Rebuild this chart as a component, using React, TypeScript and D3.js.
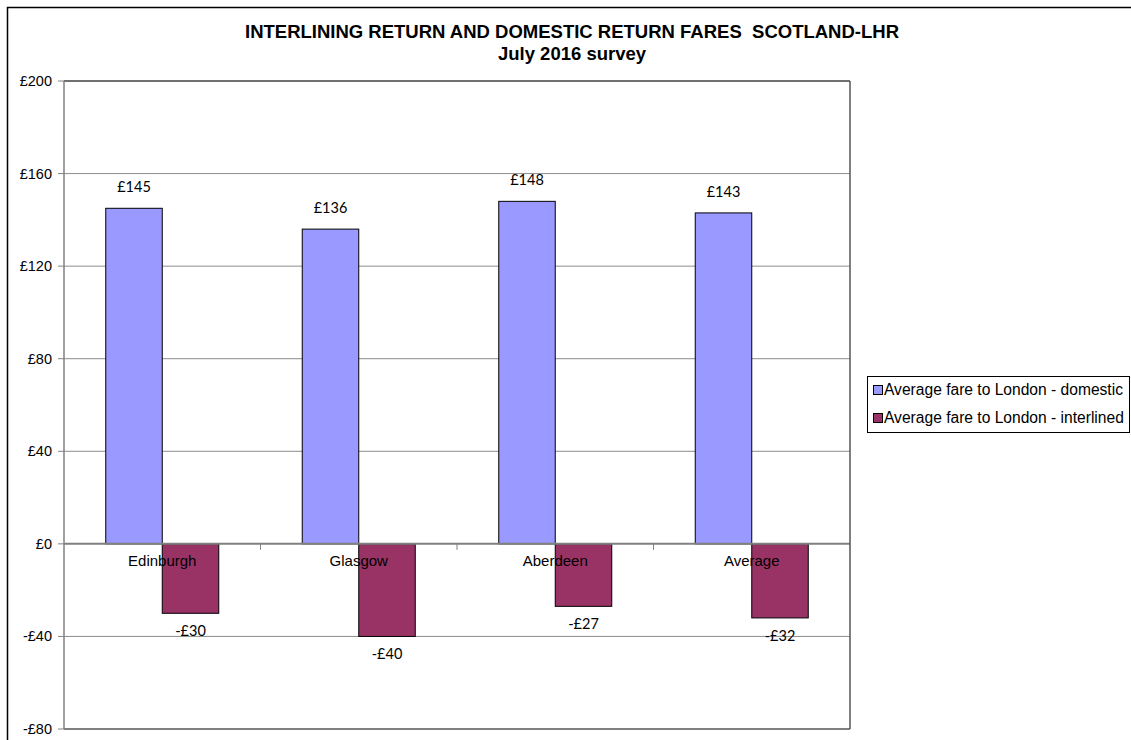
import React from "react";
import * as d3 from "d3";

const categories = ["Edinburgh", "Glasgow", "Aberdeen", "Average"];
const domestic = [145, 136, 148, 143];
const interlined = [-30, -40, -27, -32];
const yTicks = [200, 160, 120, 80, 40, 0, -40, -80];
const seriesNames = ["Average fare to London - domestic", "Average fare to London - interlined"];
const seriesColors = ["#9999FF", "#993366"];

const fmt = (v: number) => (v < 0 ? "-£" + Math.abs(v) : "£" + v);

export default function App() {
  const W = 1131, H = 740;
  const left = 64, right = 850, top = 81, bottom = 729;
  const y = d3.scaleLinear().domain([-80, 200]).range([bottom, top]);
  const x = d3.scaleBand<string>().domain(categories).range([left, right]).padding(0);
  const groupW = 113;
  const sub = d3.scaleBand<number>().domain([0, 1]).range([0, groupW]).padding(0);
  const arial = "'Liberation Sans', Arial, sans-serif";
  const calibri = "Lato, 'Open Sans', sans-serif";
  const series = [domestic, interlined];

  return (
    <svg width={W} height={H} style={{ position: "absolute", left: 0, top: 0, background: "#fff" }}>
      <rect x={7.5} y={7.5} width={W + 10} height={H + 10} fill="#fff" stroke="#000" strokeWidth={1.5} />
      <text x={572} y={38} textAnchor="middle" fontFamily={arial} fontWeight="bold" fontSize={18.5} style={{ whiteSpace: "pre" }}>
        {"INTERLINING RETURN AND DOMESTIC RETURN FARES  SCOTLAND-LHR"}
      </text>
      <text x={572} y={60} textAnchor="middle" fontFamily={arial} fontWeight="bold" fontSize={18.5}>
        July 2016 survey
      </text>
      {/* gridlines */}
      {yTicks.filter((t) => t !== 0 && t !== 200 && t !== -80).map((t) => (
        <line key={t} x1={left} x2={right} y1={y(t)} y2={y(t)} stroke="#8c8c8c" strokeWidth={1} />
      ))}
      {/* y ticks & labels */}
      {yTicks.map((t) => (
        <g key={"t" + t}>
          <line x1={left - 6} x2={left} y1={y(t)} y2={y(t)} stroke="#808080" />
          <text x={52} y={y(t) + 5} textAnchor="end" fontFamily={arial} fontSize={14.5}>
            {fmt(t)}
          </text>
        </g>
      ))}
      {/* bars */}
      {categories.map((c, i) => {
        const gx = (x(c) as number) + x.bandwidth() / 2 - groupW / 2;
        return series.map((s, k) => {
          const v = s[i];
          const bx = gx + (sub(k) as number);
          const y0 = y(Math.max(0, v));
          const h = Math.abs(y(v) - y(0));
          return (
            <rect key={c + k} x={bx} y={y0} width={sub.bandwidth()} height={h} fill={seriesColors[k]} stroke="#000" strokeWidth={1} />
          );
        });
      })}
      {/* zero line */}
      <line x1={left} x2={right} y1={y(0)} y2={y(0)} stroke="#808080" strokeWidth={2} />
      {/* category ticks */}
      {categories.slice(1).map((c) => (
        <line key={"ct" + c} x1={x(c) as number} x2={x(c) as number} y1={y(0)} y2={y(0) + 6} stroke="#808080" />
      ))}
      {/* plot frame */}
      <line x1={left} x2={right} y1={top} y2={top} stroke="#404040" strokeWidth={1.5} />
      <line x1={right} x2={right} y1={top} y2={bottom} stroke="#555" strokeWidth={1.5} />
      <line x1={left} x2={right} y1={bottom} y2={bottom} stroke="#555" strokeWidth={1.5} />
      <line x1={left} x2={left} y1={top} y2={bottom} stroke="#808080" strokeWidth={1.5} />
      {/* category labels */}
      {categories.map((c) => (
        <text key={"cl" + c} x={(x(c) as number) + x.bandwidth() / 2} y={y(0) + 22} textAnchor="middle" fontFamily={arial} fontSize={15}>
          {c}
        </text>
      ))}
      {/* value labels */}
      {categories.map((c, i) => {
        const gx = (x(c) as number) + x.bandwidth() / 2 - groupW / 2;
        return series.map((s, k) => {
          const v = s[i];
          const cx = gx + (sub(k) as number) + sub.bandwidth() / 2;
          const ty = v >= 0 ? y(v) - 16 : y(v) + 23;
          return (
            <text key={"v" + c + k} x={cx} y={ty} textAnchor="middle" fontFamily={calibri} fontSize={14.5}>
              {fmt(v)}
            </text>
          );
        });
      })}
      {/* legend */}
      <rect x={867.5} y={376.5} width={262} height={56} fill="#fff" stroke="#000" strokeWidth={1} />
      {seriesNames.map((n, k) => (
        <g key={n}>
          <rect x={873.5} y={385.5 + k * 28} width={9} height={9} fill={seriesColors[k]} stroke="#000" strokeWidth={1} />
          <text x={884} y={395 + k * 28} fontFamily={arial} fontSize={15.6}>
            {n}
          </text>
        </g>
      ))}
    </svg>
  );
}
